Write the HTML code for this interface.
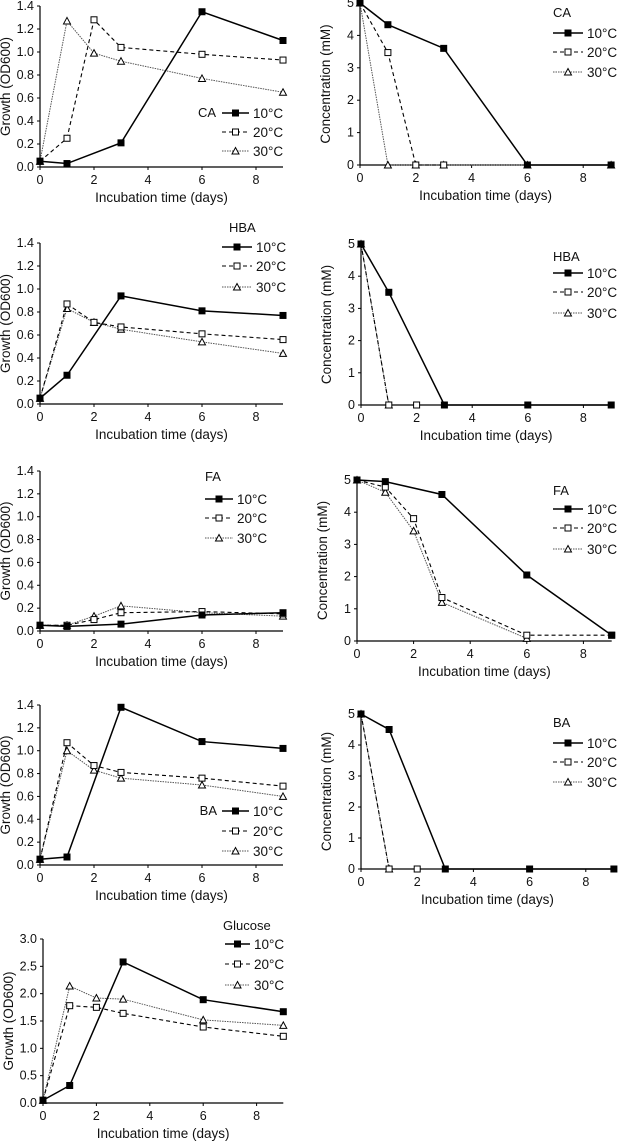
<!DOCTYPE html>
<html><head><meta charset="utf-8"><style>
html,body{margin:0;padding:0;background:#fff}
svg{display:block}
text{font-family:"Liberation Sans",Arial,sans-serif;fill:#111}
</style></head><body>
<svg id="fig" width="638" height="1142" viewBox="0 0 638 1142" xmlns="http://www.w3.org/2000/svg"></svg>
<script>
// ---- data ----
const xTicks = [0,2,4,6,8];
const growthTicks = [0,0.2,0.4,0.6,0.8,1.0,1.2,1.4];
const glucoseTicks = [0,0.5,1.0,1.5,2.0,2.5,3.0];
const concTicks = [0,1,2,3,4,5];
const seriesLabels = ["10°C","20°C","30°C"];

const caGrowthDays10 = [0,1,3,6,9];
const caGrowth10 = [0.05,0.03,0.21,1.35,1.10];
const caGrowthDays20 = [0,1,2,3,6,9];
const caGrowth20 = [0.05,0.25,1.28,1.04,0.98,0.93];
const caGrowthDays30 = [0,1,2,3,6,9];
const caGrowth30 = [0.05,1.27,0.99,0.92,0.77,0.65];

const caConcDays10 = [0,1,3,6,9];
const caConc10 = [5,4.33,3.6,0,0];
const caConcDays20 = [0,1,2,3];
const caConc20 = [5,3.47,0,0];
const caConcDays30 = [0,1,2,3,6,9];
const caConc30 = [5,0,0,0,0,0];

const hbaGrowthDays10 = [0,1,3,6,9];
const hbaGrowth10 = [0.05,0.25,0.94,0.81,0.77];
const hbaGrowthDays20 = [0,1,2,3,6,9];
const hbaGrowth20 = [0.05,0.87,0.71,0.67,0.61,0.56];
const hbaGrowthDays30 = [0,1,2,3,6,9];
const hbaGrowth30 = [0.05,0.83,0.71,0.65,0.54,0.44];

const hbaConcDays10 = [0,1,3,6,9];
const hbaConc10 = [5,3.5,0,0,0];
const hbaConcDays20 = [0,1,2];
const hbaConc20 = [5,0,0];
const hbaConcDays30 = [0,1];
const hbaConc30 = [5,0];

const faGrowthDays10 = [0,1,3,6,9];
const faGrowth10 = [0.05,0.04,0.06,0.14,0.16];
const faGrowthDays20 = [0,1,2,3,6,9];
const faGrowth20 = [0.05,0.05,0.10,0.16,0.17,0.15];
const faGrowthDays30 = [0,1,2,3,6,9];
const faGrowth30 = [0.05,0.05,0.13,0.22,0.16,0.13];

const faConcDays10 = [0,1,3,6,9];
const faConc10 = [5,4.95,4.55,2.05,0.18];
const faConcDays20 = [0,1,2,3,6,9];
const faConc20 = [5,4.78,3.8,1.35,0.18,0.18];
const faConcDays30 = [0,1,2,3,6];
const faConc30 = [5,4.62,3.42,1.2,0.08];

const baGrowthDays10 = [0,1,3,6,9];
const baGrowth10 = [0.05,0.07,1.38,1.08,1.02];
const baGrowthDays20 = [0,1,2,3,6,9];
const baGrowth20 = [0.05,1.07,0.87,0.81,0.76,0.69];
const baGrowthDays30 = [0,1,2,3,6,9];
const baGrowth30 = [0.05,1.00,0.83,0.76,0.70,0.60];

const baConcDays10 = [0,1,3,6,9];
const baConc10 = [5,4.5,0,0,0];
const baConcDays20 = [0,1,2];
const baConc20 = [5,0,0];
const baConcDays30 = [0,1];
const baConc30 = [5,0];

const gluGrowthDays10 = [0,1,3,6,9];
const gluGrowth10 = [0.05,0.32,2.58,1.89,1.67];
const gluGrowthDays20 = [0,1,2,3,6,9];
const gluGrowth20 = [0.05,1.78,1.75,1.64,1.39,1.22];
const gluGrowthDays30 = [0,1,2,3,6,9];
const gluGrowth30 = [0.05,2.14,1.92,1.90,1.52,1.42];

const NS="http://www.w3.org/2000/svg";
const svg=document.getElementById('fig');
function mk(tag,attrs,parent){const e=document.createElementNS(NS,tag);for(const k in attrs)e.setAttribute(k,attrs[k]);(parent||svg).appendChild(e);return e;}
const styles=[
 {stroke:"#000",w:1.5,dash:"",marker:"fsq"},
 {stroke:"#000",w:1.1,dash:"4,3",marker:"osq"},
 {stroke:"#555",w:1,dash:"1.5,1",marker:"tri"}];
function marker(g,kind,x,y){
  let m;
  if(kind==="fsq"){m=mk('rect',{x:x-3.5,y:y-3.5,width:7,height:7,fill:"#000"},g);}
  else if(kind==="osq"){m=mk('rect',{x:x-3,y:y-3,width:6,height:6,fill:"#fff",stroke:"#000","stroke-width":1},g);}
  else {m=mk('polygon',{points:`${x},${y-3.5} ${x+3.5},${y+3} ${x-3.5},${y+3}`,fill:"#fff",stroke:"#000","stroke-width":1},g);}
  return m;
}
function chart(name,cfg,series){
  const g=mk('g',{});
  
  
  const X=d=>cfg.x0+d*cfg.dx;
  const Y=v=>cfg.yb-(v/cfg.ymax)*(cfg.yb-cfg.yt);
  const xEnd=X(9);
  // axes
  const ya=mk('line',{x1:cfg.x0,y1:cfg.yt,x2:cfg.x0,y2:cfg.yb,stroke:"#000","stroke-width":1.2},g);
  
  
  const xa=mk('line',{x1:cfg.x0,y1:cfg.yb,x2:xEnd,y2:cfg.yb,stroke:"#000","stroke-width":1.2},g);
  
  
  cfg.ticks.forEach(v=>{
    const y=Y(v);
    mk('line',{x1:cfg.x0-3,y1:y,x2:cfg.x0,y2:y,stroke:"#000","stroke-width":1},g);
    const t=mk('text',{x:cfg.x0-6,y:y+4,"text-anchor":"end","font-size":12.5},g);
    t.textContent=cfg.fmt(v);
    
    
  });
  xTicks.forEach(d=>{
    const x=X(d);
    mk('line',{x1:x,y1:cfg.yb,x2:x,y2:cfg.yb+3,stroke:"#000","stroke-width":1},g);
    const t=mk('text',{x:x,y:cfg.yb+17,"text-anchor":"middle","font-size":12.5},g);
    t.textContent=String(d);
    
    
  });
  const xt=mk('text',{x:(cfg.x0+xEnd)/2,y:cfg.yb+35,"text-anchor":"middle","font-size":13.5},g);
  xt.textContent="Incubation time (days)";
  
  
  const yx=cfg.x0-30, ymid=(cfg.yt+cfg.yb)/2;
  const yt=mk('text',{x:yx,y:ymid,"text-anchor":"middle","font-size":13.5,transform:`rotate(-90 ${yx} ${ymid})`},g);
  yt.textContent=cfg.ytitle;
  
  
  // series (draw 30, 20, 10 so 10 on top)
  [2,1,0].forEach(i=>{
    const s=series[i], st=styles[i];
    const sg=mk('g',{},g);
    
    
    const pts=s.days.map((d,j)=>X(d)+","+Y(s.vals[j])).join(" ");
    const pl=mk('polyline',{points:pts,fill:"none",stroke:st.stroke,"stroke-width":st.w,"stroke-dasharray":st.dash},sg);
    
    
    s.days.forEach((d,j)=>{
      const m=marker(sg,st.marker,X(d),Y(s.vals[j]));
      
      
    });
  });
  // legend
  const L=cfg.leg;
  const lg=mk('g',{},g);
  
  
  const lt=mk('text',{x:L.tx,y:L.ty+4,"text-anchor":L.inline?"end":"start","font-size":13},lg);
  lt.textContent=cfg.label;
  
  
  L.ys.forEach((y,i)=>{
    const st=styles[i];
    const e=mk('g',{},lg);
    
    
    mk('line',{x1:L.x1,y1:y,x2:L.x2,y2:y,stroke:st.stroke,"stroke-width":st.w,"stroke-dasharray":st.dash},e);
    marker(e,st.marker,(L.x1+L.x2)/2,y);
    const t=mk('text',{x:L.x2+4,y:y+5,"font-size":13.5},e);
    t.textContent=seriesLabels[i];
  });
}
const fmt1=v=>v.toFixed(1), fmt0=v=>String(v);
const GY="Growth (OD600)", CY="Concentration (mM)";

chart('ca-growth-chart',{x0:40,dx:27,yt:6,yb:167,ymax:1.4,ticks:growthTicks,fmt:fmt1,ytitle:GY,label:"CA",
  leg:{inline:true,tx:216,ty:113,x1:222,x2:249,ys:[113,132,151]}},
  [{days:caGrowthDays10,vals:caGrowth10},{days:caGrowthDays20,vals:caGrowth20},{days:caGrowthDays30,vals:caGrowth30}]);
chart('ca-concentration-chart',{x0:360,dx:27.9,yt:3,yb:165,ymax:5,ticks:concTicks,fmt:fmt0,ytitle:CY,label:"CA",
  leg:{tx:553,ty:13,x1:553,x2:583,ys:[33,52,72]}},
  [{days:caConcDays10,vals:caConc10},{days:caConcDays20,vals:caConc20},{days:caConcDays30,vals:caConc30}]);
chart('hba-growth-chart',{x0:40,dx:27,yt:243,yb:404,ymax:1.4,ticks:growthTicks,fmt:fmt1,ytitle:GY,label:"HBA",
  leg:{tx:229,ty:228,x1:222,x2:252,ys:[247,266,287]}},
  [{days:hbaGrowthDays10,vals:hbaGrowth10},{days:hbaGrowthDays20,vals:hbaGrowth20},{days:hbaGrowthDays30,vals:hbaGrowth30}]);
chart('hba-concentration-chart',{x0:361,dx:27.8,yt:244,yb:405,ymax:5,ticks:concTicks,fmt:fmt0,ytitle:CY,label:"HBA",
  leg:{tx:553,ty:257,x1:553,x2:583,ys:[273,292,313]}},
  [{days:hbaConcDays10,vals:hbaConc10},{days:hbaConcDays20,vals:hbaConc20},{days:hbaConcDays30,vals:hbaConc30}]);
chart('fa-growth-chart',{x0:40,dx:27,yt:471,yb:631,ymax:1.4,ticks:growthTicks,fmt:fmt1,ytitle:GY,label:"FA",
  leg:{tx:205,ty:477,x1:205,x2:233,ys:[499,518,538]}},
  [{days:faGrowthDays10,vals:faGrowth10},{days:faGrowthDays20,vals:faGrowth20},{days:faGrowthDays30,vals:faGrowth30}]);
chart('fa-concentration-chart',{x0:357,dx:28.3,yt:480,yb:641,ymax:5,ticks:concTicks,fmt:fmt0,ytitle:CY,label:"FA",
  leg:{tx:553,ty:491,x1:553,x2:583,ys:[509,528,549]}},
  [{days:faConcDays10,vals:faConc10},{days:faConcDays20,vals:faConc20},{days:faConcDays30,vals:faConc30}]);
chart('ba-growth-chart',{x0:40,dx:27,yt:705,yb:865,ymax:1.4,ticks:growthTicks,fmt:fmt1,ytitle:GY,label:"BA",
  leg:{inline:true,tx:217,ty:811,x1:222,x2:249,ys:[811,831,851]}},
  [{days:baGrowthDays10,vals:baGrowth10},{days:baGrowthDays20,vals:baGrowth20},{days:baGrowthDays30,vals:baGrowth30}]);
chart('ba-concentration-chart',{x0:361,dx:28.1,yt:714,yb:869,ymax:5,ticks:concTicks,fmt:fmt0,ytitle:CY,label:"BA",
  leg:{tx:553,ty:723,x1:553,x2:583,ys:[743,762,782]}},
  [{days:baConcDays10,vals:baConc10},{days:baConcDays20,vals:baConc20},{days:baConcDays30,vals:baConc30}]);
chart('glucose-growth-chart',{x0:43,dx:26.7,yt:939,yb:1103,ymax:3.0,ticks:glucoseTicks,fmt:fmt1,ytitle:GY,label:"Glucose",
  leg:{tx:223,ty:926,x1:225,x2:250,ys:[944,964,985]}},
  [{days:gluGrowthDays10,vals:gluGrowth10},{days:gluGrowthDays20,vals:gluGrowth20},{days:gluGrowthDays30,vals:gluGrowth30}]);
</script>
</body></html>
